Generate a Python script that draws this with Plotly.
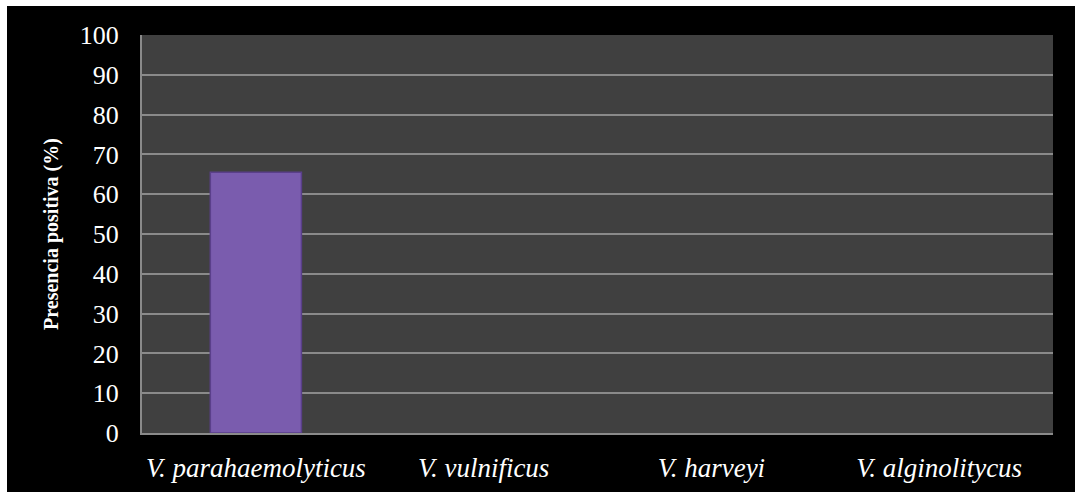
import plotly.graph_objects as go

categories = ["V. parahaemolyticus", "V. vulnificus", "V. harveyi", "V. alginolitycus"]
values = [65.5, 0, 0, 0]
y_ticks = list(range(0, 101, 10))

W, H = 1075, 494
L, R, T, B = 142, 22, 35, 61

fig = go.Figure()
fig.add_trace(go.Bar(
    x=categories, y=values,
    marker=dict(color="#7a5cae",
                line=dict(color="#5a3f8a", width=[1.5 if v > 0 else 0 for v in values])),
    width=0.4,
    showlegend=False,
))

font_family = "'Liberation Serif', 'Times New Roman', serif"
fig.update_layout(
    width=W, height=H,
    margin=dict(l=L, r=R, t=T, b=B),
    paper_bgcolor="black",
    plot_bgcolor="#404040",
    font=dict(family=font_family, color="white", size=26),
    xaxis=dict(
        tickfont=dict(family=font_family, size=27, color="white", style="italic"),
        showgrid=False,
        showline=True, linecolor="#8a8a8a", linewidth=2,
        ticks="", ticklabelstandoff=10,
        range=[-0.5, 3.5],
        automargin=False,
    ),
    yaxis=dict(
        range=[0, 100],
        tickvals=y_ticks,
        showgrid=True, gridcolor="#8a8a8a", gridwidth=2,
        showline=True, linecolor="#8a8a8a", linewidth=2,
        zeroline=False,
        ticks="", ticklabelstandoff=16,
        tickfont=dict(family=font_family, size=26, color="white"),
        title=dict(text="<b>Presencia positiva (%)</b>",
                   font=dict(family=font_family, size=20, color="white"),
                   standoff=16),
        automargin=False,
    ),
    shapes=[
        dict(type="rect", xref="paper", yref="paper",
             x0=-L / (W - L - R) - 0.01, x1=(7 - L) / (W - L - R),
             y0=-0.3, y1=1.3, fillcolor="white", line=dict(width=0), layer="below"),
        dict(type="rect", xref="paper", yref="paper",
             x0=-0.3, x1=1.3,
             y0=(H - T - B + T - 6) / (H - T - B), y1=1.3,
             fillcolor="white", line=dict(width=0), layer="below"),
        dict(type="rect", xref="paper", yref="paper",
             x0=-0.3, x1=1.3,
             y0=-0.3, y1=-(492 - (H - B)) / (H - T - B),
             fillcolor="white", line=dict(width=0), layer="below"),
    ],
)

fig.write_html("out.html")
